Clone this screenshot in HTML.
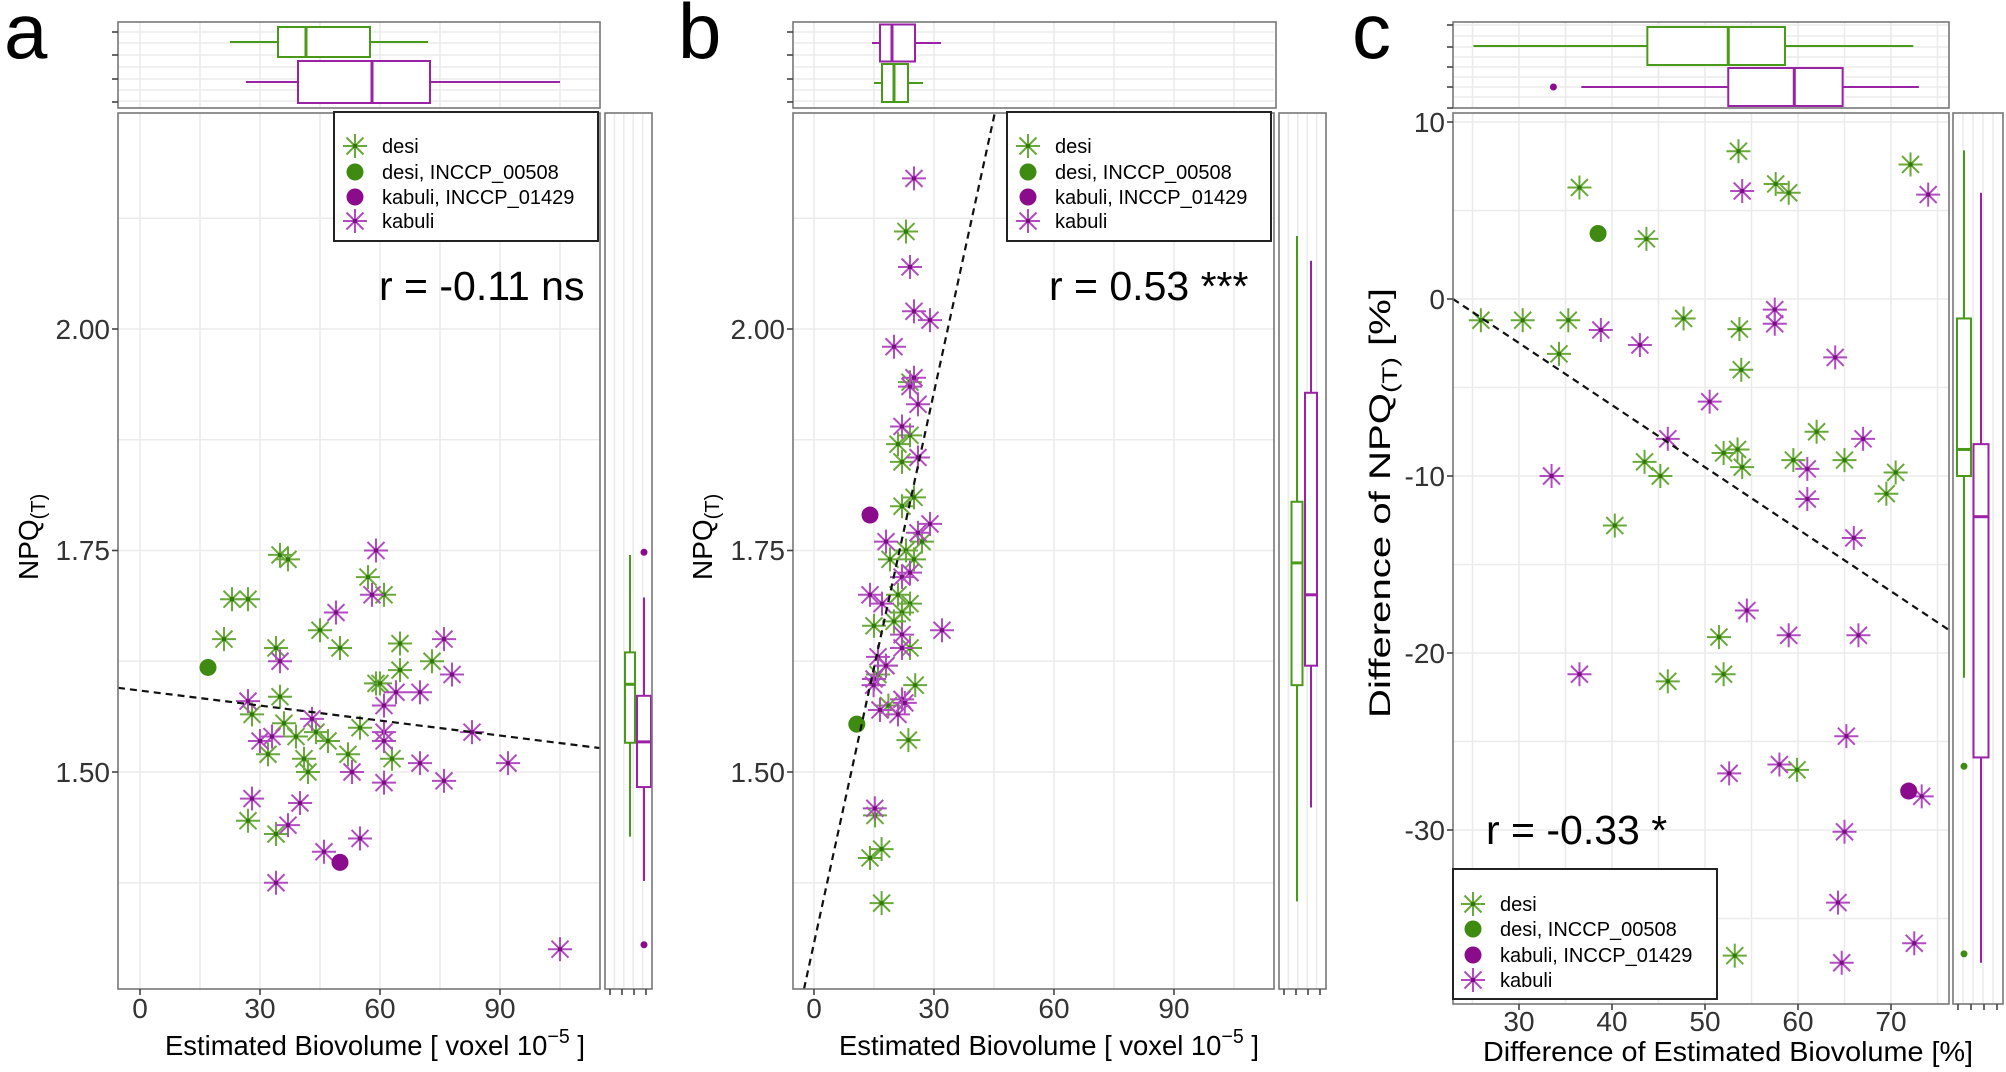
<!DOCTYPE html>
<html><head><meta charset="utf-8"><style>
html,body{margin:0;padding:0;background:#fff;}
svg{display:block;font-family:"Liberation Sans",Arial,sans-serif;}
</style></head><body>
<svg id="s" xmlns="http://www.w3.org/2000/svg" width="2006" height="1072" viewBox="0 0 2006 1072">
<rect width="2006" height="1072" fill="#fff"/>
<g id="bg"></g>
<g id="fg"></g>
<text x="4" y="58" font-size="78">a</text>
<text x="678" y="58" font-size="78">b</text>
<text x="1352" y="58" font-size="78">c</text>
<text x="379" y="300" font-size="41">r = -0.11 ns</text>
<text x="1049" y="300" font-size="41">r = 0.53 ***</text>
<text x="1486" y="844" font-size="41">r = -0.33 *</text>
<g font-size="28" fill="#333" text-anchor="end">
<text x="110" y="339">2.00</text><text x="110" y="560">1.75</text><text x="110" y="782">1.50</text>
<text x="785" y="339">2.00</text><text x="785" y="560">1.75</text><text x="785" y="782">1.50</text>
<text x="1445" y="132">10</text><text x="1445" y="309">0</text><text x="1445" y="486">-10</text><text x="1445" y="663">-20</text><text x="1445" y="840">-30</text>
</g>
<g font-size="28" fill="#333" text-anchor="middle">
<text x="140" y="1018">0</text><text x="260" y="1018">30</text><text x="380" y="1018">60</text><text x="500" y="1018">90</text>
<text x="814" y="1018">0</text><text x="934" y="1018">30</text><text x="1054" y="1018">60</text><text x="1174" y="1018">90</text>
<text x="1519" y="1031">30</text><text x="1612" y="1031">40</text><text x="1705" y="1031">50</text><text x="1798" y="1031">60</text><text x="1891" y="1031">70</text>
</g>
<text x="165" y="1055" font-size="28" textLength="420" lengthAdjust="spacingAndGlyphs">Estimated Biovolume [ voxel 10<tspan dy="-12" font-size="20">−5</tspan><tspan dy="12"> ]</tspan></text>
<text x="839" y="1055" font-size="28" textLength="420" lengthAdjust="spacingAndGlyphs">Estimated Biovolume [ voxel 10<tspan dy="-12" font-size="20">−5</tspan><tspan dy="12"> ]</tspan></text>
<text x="1483" y="1061" font-size="28" textLength="490" lengthAdjust="spacingAndGlyphs">Difference of Estimated Biovolume [%]</text>
<text transform="translate(38,580) rotate(-90)" font-size="28">NPQ<tspan dy="7" font-size="20">(T)</tspan></text>
<text transform="translate(712,580) rotate(-90)" font-size="28">NPQ<tspan dy="7" font-size="20">(T)</tspan></text>
<text transform="translate(1390,718) rotate(-90)" font-size="30" textLength="430" lengthAdjust="spacingAndGlyphs">Difference of NPQ<tspan dy="7" font-size="21">(T)</tspan><tspan dy="-7"> [%]</tspan></text>
<g font-size="20">
<text x="382" y="153">desi</text><text x="382" y="179">desi, INCCP_00508</text><text x="382" y="204">kabuli, INCCP_01429</text><text x="382" y="228">kabuli</text>
<text x="1055" y="153">desi</text><text x="1055" y="179">desi, INCCP_00508</text><text x="1055" y="204">kabuli, INCCP_01429</text><text x="1055" y="228">kabuli</text>
<text x="1500" y="911">desi</text><text x="1500" y="936">desi, INCCP_00508</text><text x="1500" y="962">kabuli, INCCP_01429</text><text x="1500" y="987">kabuli</text>
</g>
</svg>
<script>
var NS="http://www.w3.org/2000/svg";
var bg=document.getElementById('bg'),fg=document.getElementById('fg');
function el(t,a,p){var e=document.createElementNS(NS,t);for(var k in a)e.setAttribute(k,a[k]);(p||fg).appendChild(e);return e;}
var GS='#69a83a',GD='#2f7a0a',GC='#3f8a10',PS='#b04cc0',PD='#7a1080',PC='#8a0c8c',GB='#4a9a1a',PB='#9a22a4';
function star(x,y,c,d){for(var i=0;i<4;i++){var a=i*Math.PI/4,dx=12*Math.cos(a),dy=12*Math.sin(a);el('line',{x1:x-dx,y1:y-dy,x2:x+dx,y2:y+dy,stroke:c,'stroke-width':2});}el('rect',{x:x-2,y:y-2,width:4,height:4,fill:d});}
function circ(x,y,c){el('circle',{cx:x,cy:y,r:8.5,fill:c});}
function line(x1,y1,x2,y2,c,w,p,extra){var a={x1:x1,y1:y1,x2:x2,y2:y2,stroke:c,'stroke-width':w||1.5};if(extra)for(var k in extra)a[k]=extra[k];return el('line',a,p);}
function frame(L,T,R,B){el('rect',{x:L,y:T,width:R-L,height:B-T,fill:'none',stroke:'#777','stroke-width':1.6},fg);}
function panelbg(L,T,R,B,xs,ys){el('rect',{x:L,y:T,width:R-L,height:B-T,fill:'#fff'},bg);
 xs.forEach(function(x){line(x,T,x,B,'#ebebeb',1.6,bg);});ys.forEach(function(y){line(L,y,R,y,'#ebebeb',1.6,bg);});}
function panelAB(L,R,X0){
 var X=function(v){return X0+4*v},Y=function(v){return 329+(2-v)*886};
 var xs=[],ys=[];for(var v=0;v<=105;v+=15){var x=X(v);if(x>L&&x<R)xs.push(x);}
 for(var t=2.125;t>1.3;t-=0.125)ys.push(Y(t));
 panelbg(L,113,R,989,xs,ys);
 panelbg(L,22,R,108,xs,[32,55,79,101,43,67,90]);
 return {X:X,Y:Y};
}
var A=panelAB(118,600,140);
var B=panelAB(793,1274,814);
function margbg(L,R,T,Bt){var xs=[];for(var i=1;i<5;i++)xs.push(L+(R-L)*i/5);panelbg(L,T,R,Bt,xs,[]);}
margbg(605,652,113,989);margbg(1279,1326,113,989);
var CX=function(v){return 1519+9.3*(v-30)},CY=function(v){return 299-17.7*v};
(function(){var xs=[],ys=[];for(var v=25;v<=75;v+=5)xs.push(CX(v));for(var t=10;t>=-35;t-=5)ys.push(CY(t));
 panelbg(1453,113,1949,1004,xs,ys);panelbg(1453,22,1949,108,xs,[25,36,47,57,67,77,87,97]);})();
margbg(1953,2003,113,1004);
var aD=[[23,1.695],[27,1.695],[35,1.745],[37,1.74],[21,1.65],[34,1.64],[45,1.66],[50,1.64],[57,1.72],[61,1.70],[65,1.645],[73,1.625],[65,1.615],[59,1.6],[60,1.6],[35,1.585],[28,1.565],[36,1.555],[39,1.54],[44,1.545],[47,1.535],[55,1.55],[52,1.52],[32,1.52],[41,1.515],[42,1.50],[63,1.515],[27,1.445],[34,1.43]];
var aK=[[59,1.75],[49,1.68],[58,1.70],[35,1.625],[76,1.65],[78,1.61],[64,1.59],[70,1.59],[61,1.575],[27,1.58],[43,1.56],[30,1.535],[33,1.54],[61,1.545],[61,1.535],[83,1.545],[53,1.50],[61,1.488],[70,1.51],[76,1.49],[92,1.51],[28,1.47],[40,1.465],[37,1.44],[46,1.41],[55,1.425],[34,1.375],[105,1.30]];
aD.forEach(function(p){star(A.X(p[0]),A.Y(p[1]),GS,GD)});aK.forEach(function(p){star(A.X(p[0]),A.Y(p[1]),PS,PD)});
circ(A.X(17),A.Y(1.618),GC);circ(A.X(50),A.Y(1.398),PC);
line(118,A.Y(1.595),600,A.Y(1.527),'#111',2.2,fg,{'stroke-dasharray':'7,5'});
var bD=[[23,2.11],[24,1.94],[24,1.88],[21,1.87],[22,1.85],[25,1.81],[22,1.80],[23,1.75],[25,1.74],[27,1.76],[19,1.74],[21,1.70],[24,1.69],[22,1.68],[20,1.67],[15,1.665],[24,1.64],[18,1.62],[16,1.61],[18.6,1.575],[25.3,1.598],[23.6,1.536],[15.25,1.451],[16.9,1.413],[14,1.403],[16.9,1.352]];
var bK=[[25,2.17],[24,2.07],[25,2.02],[29,2.01],[20,1.98],[25,1.945],[24,1.935],[26,1.915],[22,1.89],[26,1.855],[29,1.78],[26,1.77],[18,1.76],[22,1.72],[24,1.725],[14,1.70],[17,1.69],[32,1.66],[22,1.655],[22,1.64],[16,1.63],[18,1.62],[15,1.605],[22,1.582],[22.7,1.578],[21,1.565],[16.5,1.57],[14.9,1.598],[15.2,1.459]];
bD.forEach(function(p){star(B.X(p[0]),B.Y(p[1]),GS,GD)});bK.forEach(function(p){star(B.X(p[0]),B.Y(p[1]),PS,PD)});
circ(B.X(10.7),B.Y(1.554),GC);circ(B.X(14),B.Y(1.79),PC);
line(B.X(-2.5),989,B.X(45.2),113,'#111',2.2,fg,{'stroke-dasharray':'7,5'});
var cD=[[25.9,-1.2],[30.4,-1.2],[35.3,-1.2],[34.3,-3.1],[36.5,6.3],[43.7,3.4],[53.6,8.35],[57.6,6.5],[59,6.0],[72.1,7.6],[47.7,-1.1],[53.7,-1.7],[53.9,-4.0],[43.5,-9.2],[45.2,-10.0],[40.3,-12.8],[52,-8.7],[53.5,-8.5],[54,-9.5],[59.5,-9.1],[62,-7.5],[65,-9.1],[69.5,-11],[70.5,-9.8],[51.5,-19.1],[52,-21.2],[46,-21.6],[59.9,-26.6],[53.2,-37.1]];
var cK=[[38.8,-1.75],[43,-2.6],[54,6.1],[74,5.9],[57.5,-0.6],[57.5,-1.4],[64,-3.3],[50.5,-5.8],[46,-7.9],[33.5,-10],[67,-7.9],[61,-9.6],[61,-11.3],[66,-13.5],[36.5,-21.2],[54.5,-17.6],[59,-19],[66.5,-19],[52.6,-26.8],[58,-26.3],[65.2,-24.7],[73.3,-28.1],[65,-30.1],[64.3,-34.1],[72.5,-36.4],[64.7,-37.5]];
cD.forEach(function(p){star(CX(p[0]),CY(p[1]),GS,GD)});cK.forEach(function(p){star(CX(p[0]),CY(p[1]),PS,PD)});
circ(CX(38.5),CY(3.7),GC);circ(CX(71.9),CY(-27.8),PC);
line(1453,299,1949,630,'#111',2.2,fg,{'stroke-dasharray':'7,5'});
function hbox(X,yc,h,w1,q1,m,q3,w2,c){line(X(w1),yc,X(q1),yc,c,2);line(X(q3),yc,X(w2),yc,c,2);
 el('rect',{x:X(q1),y:yc-h/2,width:X(q3)-X(q1),height:h,fill:'#fff',stroke:c,'stroke-width':2});line(X(m),yc-h/2,X(m),yc+h/2,c,3);}
function vbox(Y,xc,w,w1,q1,m,q3,w2,c){line(xc,Y(w1),xc,Y(q1),c,2);line(xc,Y(q3),xc,Y(w2),c,2);
 el('rect',{x:xc-w/2,y:Y(q1),width:w,height:Y(q3)-Y(q1),fill:'#fff',stroke:c,'stroke-width':2});line(xc-w/2,Y(m),xc+w/2,Y(m),c,3);}
hbox(A.X,42,30,22.5,34.5,41.5,57.5,72,GB);hbox(A.X,82,42,26.5,39.5,58,72.5,105,PB);
hbox(B.X,83,38,15,17,20,23.5,27.25,GB);hbox(B.X,43,37,14.5,16.5,19.5,25.25,31.75,PB);
hbox(CX,46,38,25.1,43.8,52.5,58.6,72.4,GB);hbox(CX,87,38,36.7,52.5,59.6,64.8,73,PB);
el('circle',{cx:CX(33.7),cy:87,r:3.5,fill:PC});
vbox(A.Y,630,10,1.745,1.635,1.599,1.533,1.427,GB);vbox(A.Y,644,14,1.697,1.586,1.534,1.483,1.377,PB);
el('circle',{cx:644,cy:A.Y(1.748),r:3.5,fill:PC});el('circle',{cx:644,cy:A.Y(1.305),r:3.5,fill:PC});
vbox(B.Y,1297,11,2.105,1.805,1.736,1.598,1.354,GB);vbox(B.Y,1311,12,2.077,1.928,1.70,1.62,1.46,PB);
vbox(CY,1964,14,8.4,-1.1,-8.5,-10,-21.4,GB);vbox(CY,1981,15,6.0,-8.2,-12.3,-25.9,-37.5,PB);
el('circle',{cx:1964,cy:CY(-26.4),r:3.5,fill:GC});el('circle',{cx:1964,cy:CY(-37),r:3.5,fill:GC});
frame(118,113,600,989);frame(118,22,600,108);frame(605,113,652,989);
frame(793,113,1274,989);frame(793,22,1276,108);frame(1279,113,1326,989);
frame(1453,113,1949,1004);frame(1453,22,1949,108);frame(1953,113,2003,1004);
function yt(L,ys){ys.forEach(function(y){line(L-6,y,L,y,'#444',1.6)})}
yt(118,[329,550.5,772]);yt(793,[329,550.5,772]);yt(1453,[122,299,476,653,830]);
yt(118,[32,55,79,102]);yt(793,[32,55,79,102]);yt(1453,[25,47,67,87,108]);
function xt(B,xs){xs.forEach(function(x){line(x,B,x,B+6,'#444',1.6)})}
xt(989,[140,260,380,500]);xt(989,[814,934,1054,1174]);xt(1004,[1519,1612,1705,1798,1891]);
xt(989,[610,622,634,646]);xt(989,[1284,1296,1308,1320]);xt(1004,[1958,1971,1984,1997]);
function legend(L,T,R,Bt,sx,ys){el('rect',{x:L,y:T,width:R-L,height:Bt-T,fill:'#fff',stroke:'#222','stroke-width':2},fg);
 star(sx,ys[0],GS,GD);circ(sx,ys[1],GC);circ(sx,ys[2],PC);star(sx,ys[3],PS,PD);}
legend(334,112,598,241,355,[146,172,197,221]);
legend(1007,112,1271,241,1028,[146,172,197,221]);
legend(1453,869,1717,999,1473,[904,929,955,980]);
var s=document.getElementById('s');Array.prototype.slice.call(s.querySelectorAll('svg > text, svg > g[font-size]')).forEach(function(n){s.appendChild(n)});
</script>
</body></html>
